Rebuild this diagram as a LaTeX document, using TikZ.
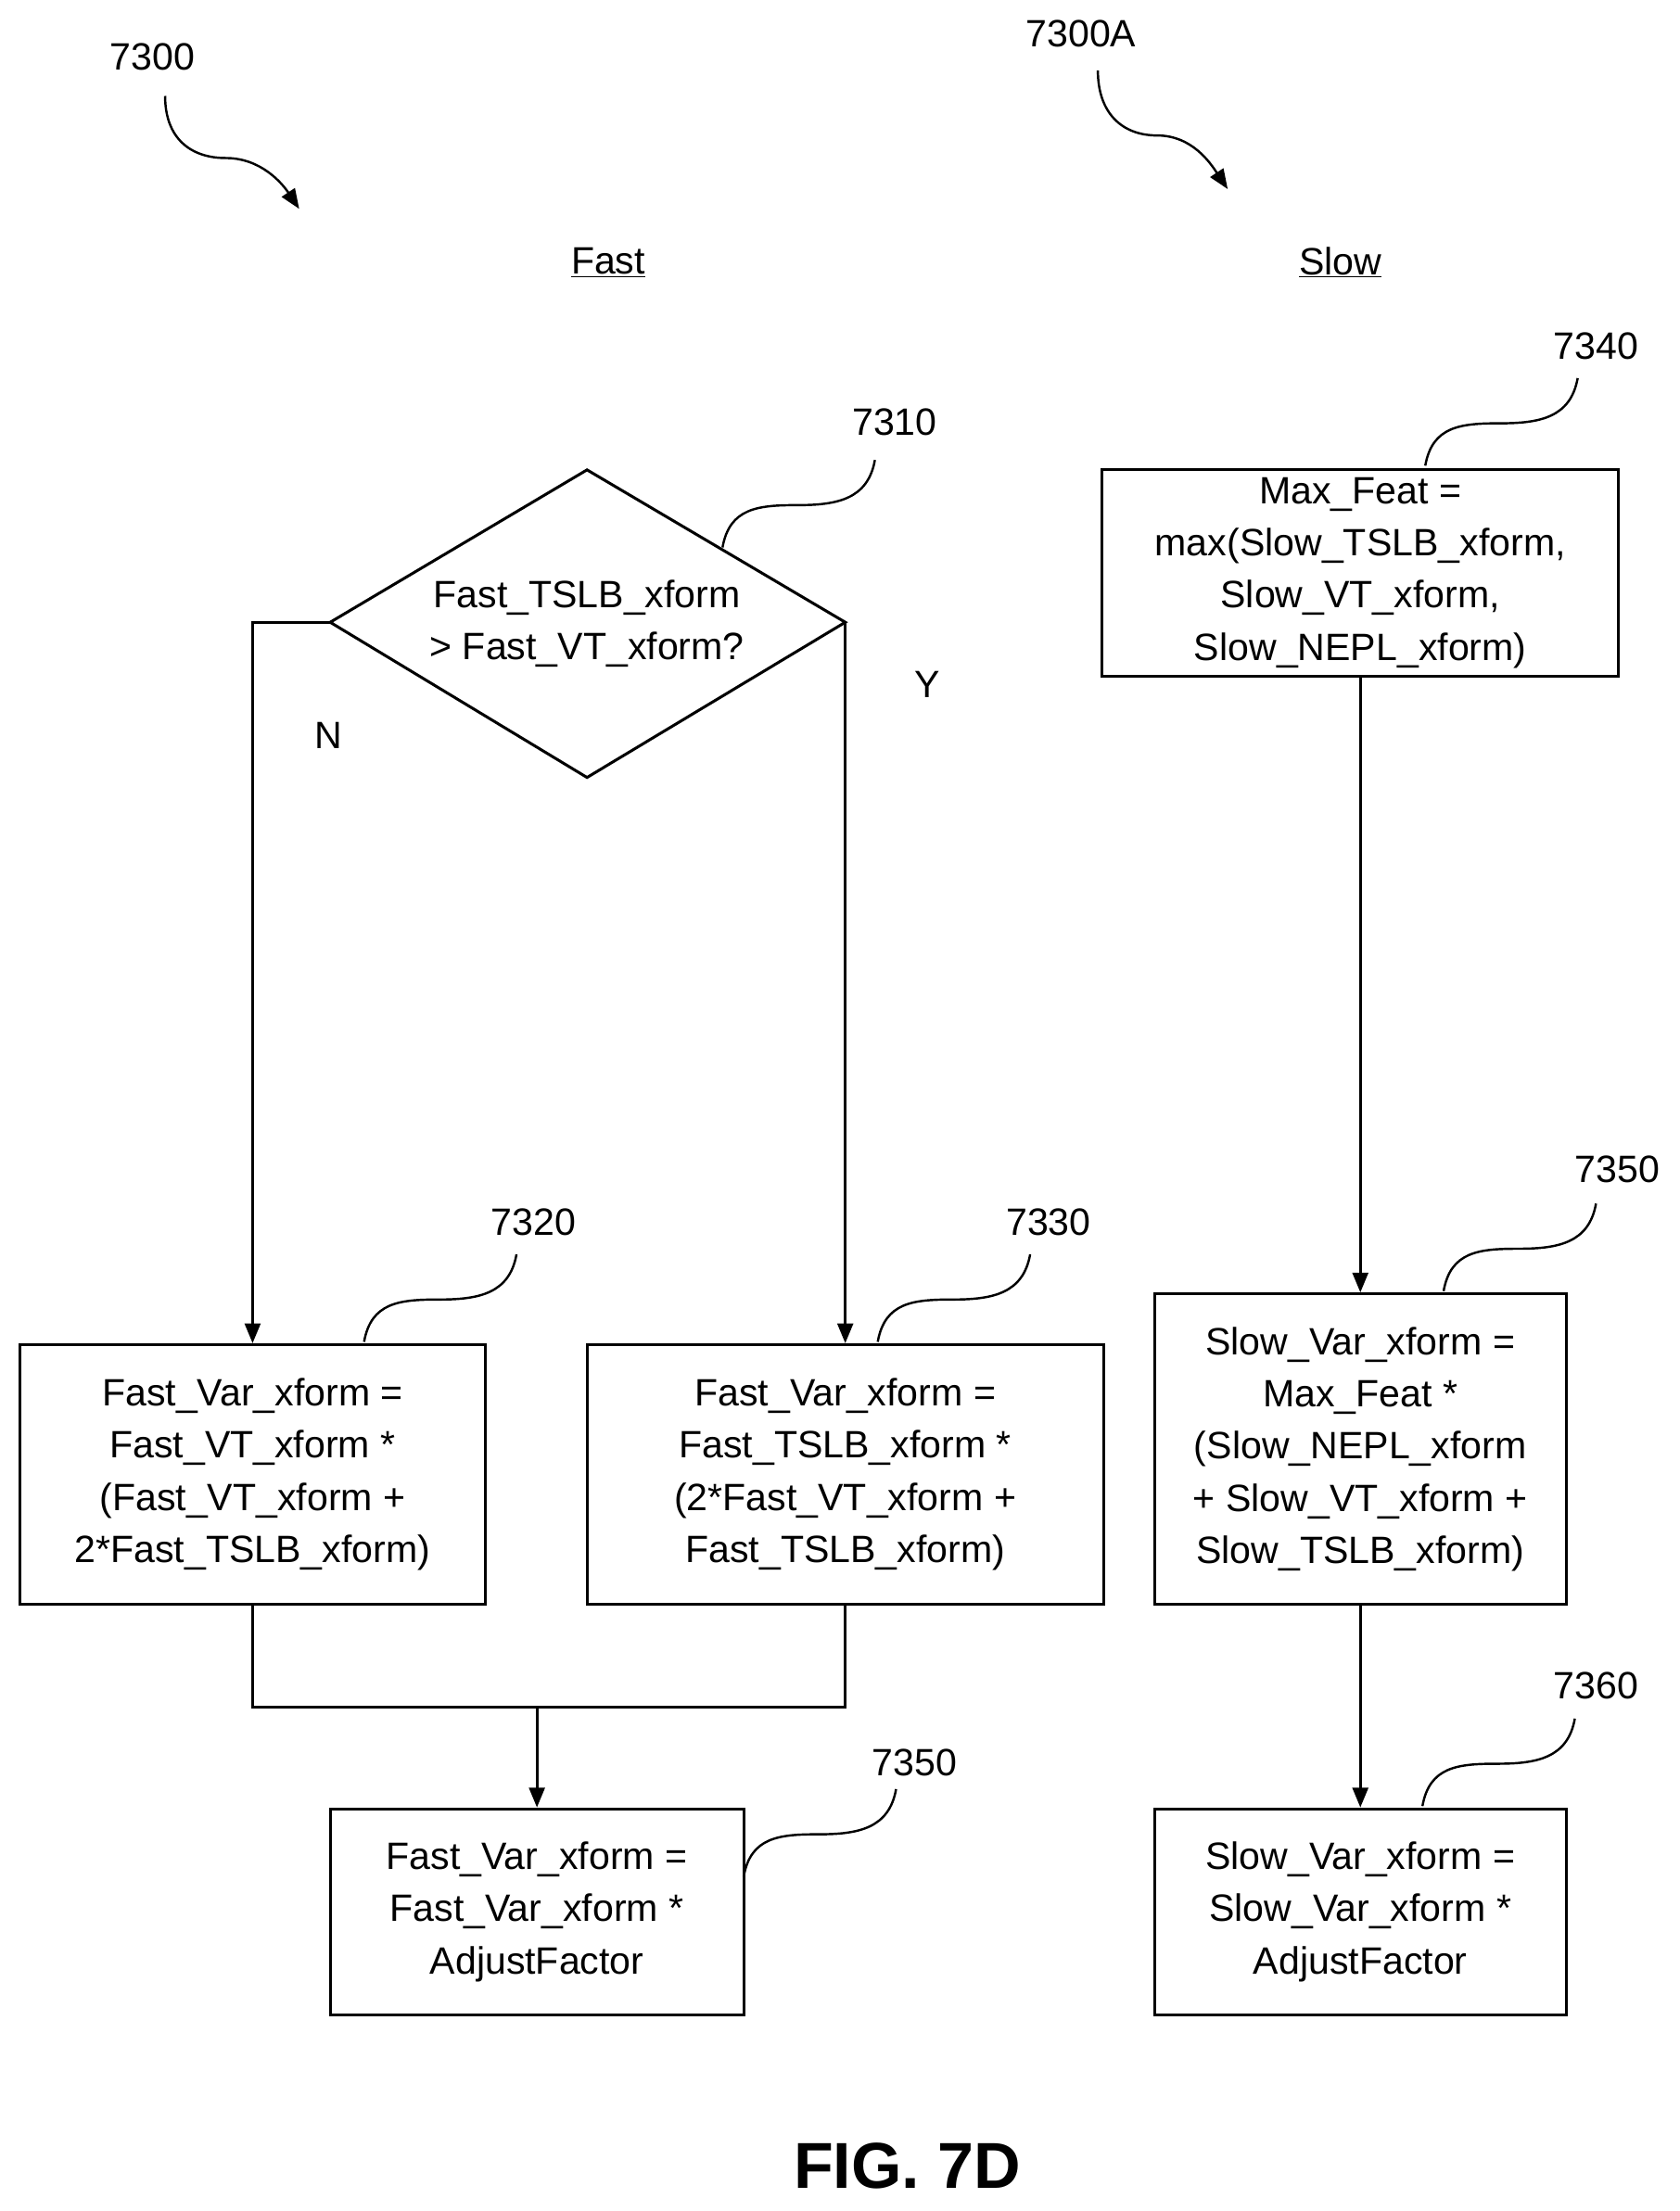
\documentclass[tikz,border=0pt]{standalone}
\usepackage{fontspec}
\setmainfont{Liberation Sans}
\usetikzlibrary{arrows.meta}
\begin{document}
\begin{tikzpicture}[x=1pt,y=-1pt,
  box/.style={draw,line width=2pt,inner sep=0pt,align=center,font=\fontsize{27}{37}\selectfont},
  lbl/.style={font=\fontsize{27}{32}\selectfont},
  ln/.style={line width=2pt},
  arr/.style={line width=2pt,-{Triangle[length=14pt,width=11pt]}},
  sq/.style={line width=1.6pt}]
\useasboundingbox (0,0) rectangle (1190,1567);
% diamond
\coordinate (dL) at (234,441); \coordinate (dR) at (599,441);
\coordinate (dT) at (416,333); \coordinate (dB) at (416,551);
\draw[ln] (dL)--(dT)--(dR)--(dB)--cycle;
\node[box,draw=none] (dtxt) at (416,442) {Fast\_TSLB\_xform\\> Fast\_VT\_xform?};
% boxes
\node[box,minimum width=330,minimum height=184] (b7320) at (179,1045) {Fast\_Var\_xform =\\Fast\_VT\_xform *\\(Fast\_VT\_xform +\\2*Fast\_TSLB\_xform)};
\node[box,minimum width=366,minimum height=184] (b7330) at (599,1045) {Fast\_Var\_xform =\\Fast\_TSLB\_xform *\\(2*Fast\_VT\_xform +\\Fast\_TSLB\_xform)};
\node[box,minimum width=293,minimum height=146] (b7350L) at (380.5,1355) {Fast\_Var\_xform =\\Fast\_Var\_xform *\\AdjustFactor};
\node[box,minimum width=366,minimum height=146] (b7340) at (964,406) {Max\_Feat =\\max(Slow\_TSLB\_xform,\\Slow\_VT\_xform,\\Slow\_NEPL\_xform)};
\node[box,minimum width=292,minimum height=220] (b7350R) at (964,1027) {Slow\_Var\_xform =\\Max\_Feat *\\(Slow\_NEPL\_xform\\+ Slow\_VT\_xform +\\Slow\_TSLB\_xform)};
\node[box,minimum width=292,minimum height=146] (b7360) at (964,1355) {Slow\_Var\_xform =\\Slow\_Var\_xform *\\AdjustFactor};
% connectors
\draw[arr] (dL) -| (b7320.north);
\draw[arr] (dR) -- (b7330.north);
\coordinate (jL) at (179,1210); \coordinate (jR) at (599,1210); \coordinate (jM) at (380.5,1210);
\draw[ln] (b7320.south) -- (jL) -- (jR) -- (b7330.south);
\draw[arr] (jM) -- (b7350L.north);
\draw[arr] (b7340.south) -- (b7350R.north);
\draw[arr] (b7350R.south) -- (b7360.north);
% labels
\node[lbl] (N) at (233,521) {N};
\node[lbl] (Y) at (657,485) {Y};
\node[lbl] (fast) at (431,186) {\underline{Fast}};
\node[lbl] (slow) at (950,186) {\underline{Slow}};
\node[font=\bfseries\fontsize{46}{50}\selectfont] (fig) at (643,1535) {FIG. 7D};
% figure refs
\node[lbl] (r7300) at (108,40) {7300};
\node[lbl] (r7300A) at (766,24) {7300A};
\coordinate (a1s) at (117,68); \coordinate (a1m) at (160,112); \coordinate (a1e) at (212,148);
\draw[sq,-{Triangle[length=14pt,width=11pt]}] (a1s) .. controls +(0,30) and +(-25,0) .. (a1m) .. controls +(25,0) and +(-12,-18) .. (a1e);
\coordinate (a2s) at (778,50); \coordinate (a2m) at (820,96); \coordinate (a2e) at (870,134);
\draw[sq,-{Triangle[length=14pt,width=11pt]}] (a2s) .. controls +(0,30) and +(-25,0) .. (a2m) .. controls +(25,0) and +(-12,-18) .. (a2e);
% squiggle leaders
\foreach \n/\lx/\ly/\sx/\sy in {7310/634/299/512/388, 7320/378/866/258/951, 7330/743/866/622/951, 7350/648/1249/527/1330, 7340/1131/245/1010/330, 7350/1146/829/1023/915, 7360/1131/1195/1008/1280}{
  \node[lbl] (L\n\lx) at (\lx,\ly) {\n};
  \coordinate (s\n\lx) at (\sx,\sy);
  \coordinate (m\n\lx) at (\sx+53,\sy-30);
  \coordinate (e\n\lx) at (\sx+108,\sy-62);
  \draw[sq] (s\n\lx) .. controls +(5,-28) and +(-28,0) .. (m\n\lx) .. controls +(28,0) and +(-5,28) .. (e\n\lx);
}
\end{tikzpicture}
\end{document}
